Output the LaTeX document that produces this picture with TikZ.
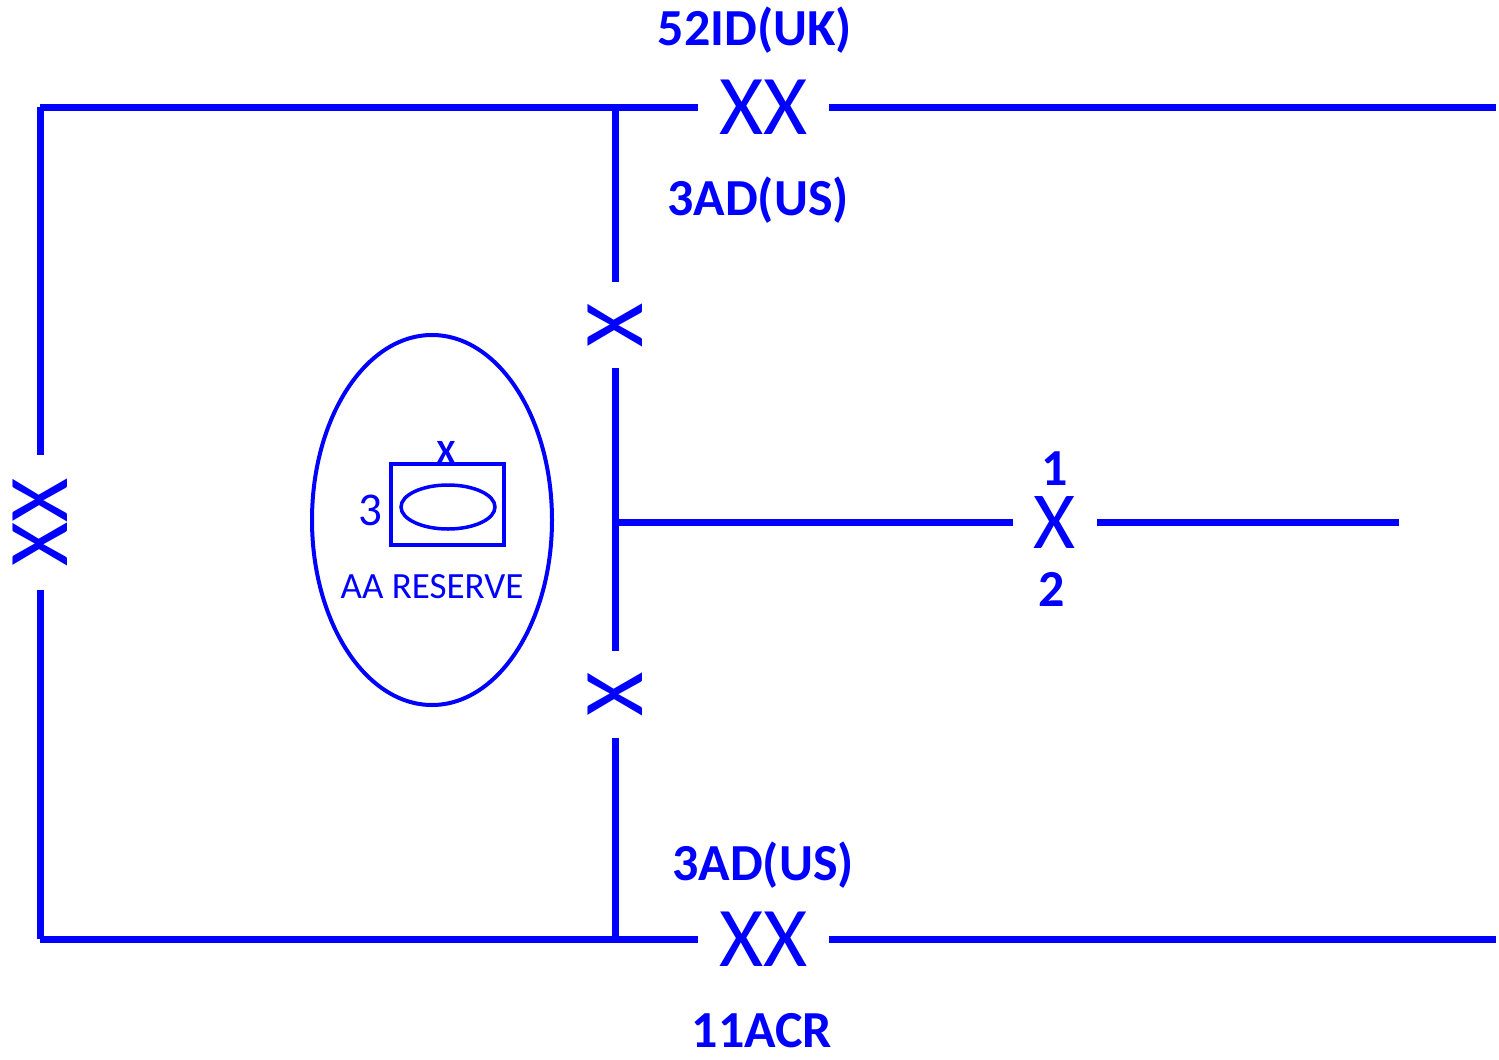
\documentclass[tikz,border=0pt]{standalone}
\usepackage{fontspec}
\setmainfont{Carlito}
\usetikzlibrary{shapes.geometric}
\begin{document}
\begin{tikzpicture}[x=1pt, y=-1pt, blue, line width=7pt,
  marca/.style={inner sep=0pt, outer sep=0pt, minimum height=10pt, font=\fontsize{85}{85}\selectfont},
  etiq/.style={inner sep=0pt, font=\fontsize{52}{52}\selectfont\bfseries}]
          \useasboundingbox (0,0) rectangle (1499,1060);
          % Esquinas y uniones
          \coordinate (tl) at (40,107);
          \coordinate (tr) at (1496,107);
          \coordinate (bl) at (40,939);
          \coordinate (br) at (1496,939);
          \coordinate (mt) at (615,107);
          \coordinate (mb) at (615,939);
          \coordinate (mj) at (615,522);
          \coordinate (re) at (1399,522);
          % Limites de division
          \node[marca, minimum width=131pt] (divtop) at (763.5,107) {XX};
          \node[marca, minimum width=131pt] (divbot) at (763.5,939) {XX};
          \node[marca, minimum width=135pt, rotate=90] (divleft) at (40,522.5) {XX};
          % Limites de brigada
          \node[marca, minimum width=86pt, rotate=90] (bdetop) at (615,325) {X};
          \node[marca, minimum width=87pt, rotate=90] (bdebot) at (615,694.5) {X};
          \node[marca, minimum width=84pt, font=\fontsize{81}{81}\selectfont] (bderight) at (1055,523) {X};
          % Lineas
          \draw (tl) -- (divtop);
          \draw (divtop) -- (tr);
          \draw (bl) -- (divbot);
          \draw (divbot) -- (br);
          \draw (tl) -- (divleft);
          \draw (divleft) -- (bl);
          \draw (mt) -- (bdetop);
          \draw (bdetop) -- (bdebot);
          \draw (bdebot) -- (mb);
          \draw (mj) -- (bderight.west |- mj);
          \draw (bderight.east |- mj) -- (re);
          % Etiquetas
          \node[etiq] (uk) at (755,30) {52ID(UK)};
          \node[etiq] (us1) at (758,200) {3AD(US)};
          \node[etiq] (us2) at (763,865) {3AD(US)};
          \node[etiq] (acr) at (762,1031) {11ACR};
          \node[etiq] (one) at (1055,469) {1};
          \node[etiq] (two) at (1052,589) {2};
          % Reserva
          \node[draw, ellipse, line width=4pt, minimum width=240pt, minimum height=370pt] (res) at (432,520) {};
          \node[draw, line width=3.5pt, minimum width=113pt, minimum height=81pt] (bde) at (447.5,504.5) {};
          \node[draw, ellipse, line width=3.5pt, minimum width=94pt, minimum height=44pt] (arm) at (448,507) {};
          \node[font=\fontsize{34}{34}\selectfont\bfseries] (ech) at (446,452) {X};
          \node[font=\fontsize{47}{47}\selectfont] (num) at (370,510) {3};
          \node[font=\fontsize{37}{37}\selectfont] (aa) at (432,587) {AA RESERVE};
        \end{tikzpicture}
\end{document}
